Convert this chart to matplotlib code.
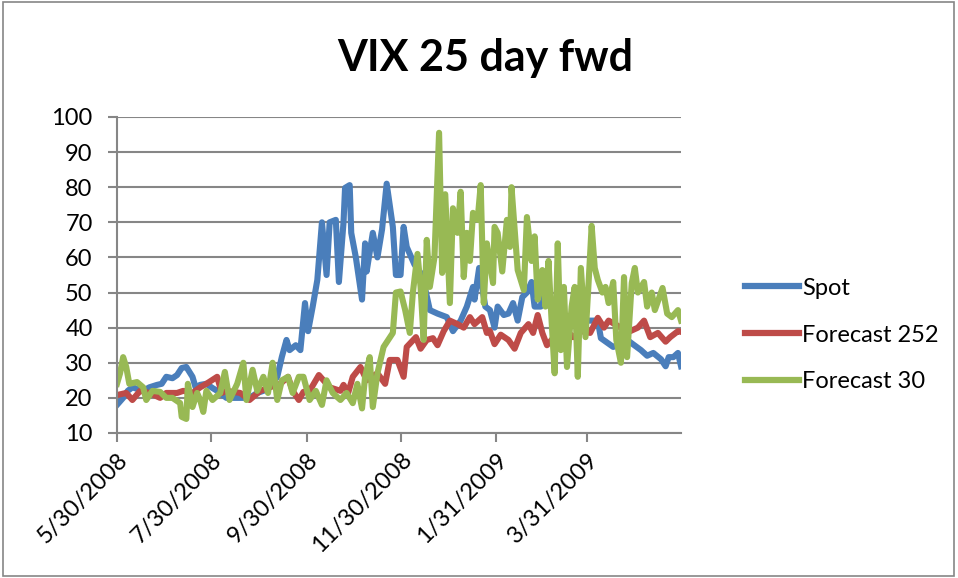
import numpy as np
import pandas as pd
import matplotlib
matplotlib.use("Agg")
import matplotlib.pyplot as plt
from matplotlib.patches import Rectangle

# datas: dias contados a partir de 5/30/2008
inicio = pd.Timestamp("2008-05-30")

diasSpot = [0, 4, 7, 10, 17, 21, 26, 29, 32, 36, 39, 42, 45, 49, 51, 54, 58, 62, 65, 71,
            80, 86, 91, 95, 99, 104, 107, 110, 112, 116, 119, 122, 124, 127, 130, 133, 136,
            138, 142, 144, 147, 148, 151, 152, 155, 159, 161, 162, 166, 169, 172, 175, 179,
            181, 184, 186, 188, 193, 198, 203, 208, 214, 218, 223, 227, 231, 232, 235, 239,
            242, 245, 247, 251, 254, 257, 260, 263, 266, 269, 271, 275, 277, 281, 288, 294,
            301, 307, 312, 314, 322, 331, 340, 344, 348, 353, 356, 358, 361, 364, 366]
spot = [18, 20, 22, 23, 22, 23, 23.7, 24, 26, 25.6, 26.5, 28.5, 28.8, 26, 23, 23.7, 24, 22.8,
        22, 20, 20, 20, 21.4, 22, 23, 26, 31.7, 36.5, 33.6, 35, 33.6, 47, 39, 46, 53.6, 70,
        55, 70, 70.7, 53, 70, 79.8, 80.6, 67, 60, 48, 64, 56, 67, 60, 68, 81, 68.7, 55, 55,
        68.7, 63, 58, 55, 45, 44, 43, 39, 42, 46, 51.6, 48, 57, 46, 45, 40, 46, 43.6, 44, 47,
        42, 48.7, 50, 53, 46, 46, 51.6, 46, 44, 43, 42, 42, 42, 37, 34.5, 36.5, 33.6, 32,
        32.8, 31, 29, 31.6, 31.6, 32.8, 29]

diasF252 = [0, 6, 10, 15, 21, 28, 32, 39, 43, 49, 54, 58, 65, 68, 71, 80, 86, 93, 99, 106,
            111, 114, 118, 121, 125, 131, 134, 138, 145, 147, 150, 153, 158, 162, 169, 174,
            177, 182, 186, 188, 194, 197, 201, 205, 208, 212, 216, 221, 225, 229, 232, 237,
            240, 242, 245, 249, 254, 258, 262, 267, 270, 273, 276, 279, 286, 292, 296, 301,
            307, 312, 316, 319, 327, 333, 338, 342, 346, 351, 356, 359, 364, 366]
f252 = [20.8, 21.4, 19.4, 22, 21.4, 20, 21.4, 21.4, 22, 21.4, 23, 24, 26, 21.4, 22, 21.4,
        19.4, 22, 23, 24, 26, 22, 19.4, 21.7, 22, 26.5, 25, 23, 22, 23.7, 21.4, 26, 28.8, 25,
        27, 24, 30.8, 30.8, 26, 34.5, 37.3, 34, 36.5, 37, 35, 39, 42, 41, 40, 43, 41, 43,
        38.5, 39, 35.3, 38, 36.5, 34, 38.5, 41, 38.5, 43.6, 38.5, 35, 38.5, 39, 37.3, 39,
        38.5, 42.8, 40, 42, 40, 39, 40, 42, 37.3, 38.5, 36, 37.3, 39, 38.8]

diasF30 = [0, 2, 4, 6, 8, 13, 17, 19, 23, 28, 32, 36, 41, 42, 45, 46, 49, 52, 54, 56, 58,
           62, 67, 70, 73, 78, 82, 84, 88, 91, 95, 98, 101, 104, 107, 111, 114, 118, 121, 125,
           129, 133, 136, 140, 145, 149, 153, 156, 159, 161, 164, 166, 169, 173, 176, 179,
           181, 184, 187, 190, 192, 195, 197, 199, 201, 203, 206, 209, 211, 213, 216, 218,
           221, 223, 225, 227, 229, 231, 234, 236, 238, 240, 244, 245, 247, 250, 253, 255,
           256, 260, 264, 266, 269, 271, 273, 276, 278, 280, 282, 284, 286, 288, 290, 292,
           295, 297, 299, 301, 304, 306, 308, 310, 312, 315, 317, 319, 322, 324, 327, 329,
           331, 334, 336, 338, 342, 344, 347, 349, 354, 357, 360, 364, 366]
f30 = [24, 27, 31.6, 28.8, 24, 24.5, 23, 19.4, 22, 21.7, 20, 20, 18.5, 14.6, 14, 24, 17.4,
       21.4, 19.4, 16, 22, 19.4, 21.4, 27.4, 19.4, 24, 30, 19.4, 28, 22, 26, 21.4, 30, 19.4,
       25, 26, 21.4, 26, 26, 19.4, 22, 18, 25, 21.4, 19.4, 21.4, 18.5, 24, 17, 26, 31.6,
       17.4, 27, 34.5, 36.5, 38.5, 50, 50.3, 45, 38.5, 50, 61, 51.6, 36.5, 65, 51.6, 60,
       95.5, 55.6, 78, 47, 74, 67, 78.7, 54.4, 67, 59, 72.7, 70.7, 80.6, 47, 64, 52.7, 68.7,
       67, 56, 70.7, 63, 80, 56.4, 50.7, 71.5, 59, 66, 48, 56.4, 46, 59, 42, 27, 64, 33.6,
       51.6, 28.8, 46, 51.6, 26, 57, 37.3, 52.7, 69, 57, 53.6, 50, 51.6, 47, 53, 36.5, 30,
       54.4, 31.6, 52.7, 57, 50, 53, 46, 50, 45, 51.3, 44, 43, 45, 42]

ticksDatas = ["2008-05-30", "2008-07-30", "2008-09-30", "2008-11-30", "2009-01-31", "2009-03-31"]
ticksLabels = ["5/30/2008", "7/30/2008", "9/30/2008", "11/30/2008", "1/31/2009", "3/31/2009"]

plt.rcParams['font.family'] = ['Lato', 'DejaVu Sans']

fig = plt.figure(figsize=(9.58, 5.78), dpi=100)
ax = fig.add_axes([0.1221, 0.2509, 0.5888, 0.5467])

fig.patches.append(Rectangle((0.003, 0.004), 0.993, 0.992, transform=fig.transFigure,
                             fill=False, edgecolor='#868686', linewidth=1.2))

def datas(dias):
    return inicio + pd.to_timedelta(dias, unit='D')

ax.plot(datas(diasSpot), spot, color='#4A7EBB', lw=4.4, label='Spot', solid_joinstyle='round')
ax.plot(datas(diasF252), f252, color='#BE4B48', lw=4.4, label='Forecast 252', solid_joinstyle='round')
ax.plot(datas(diasF30), f30, color='#98B954', lw=4.4, label='Forecast 30', solid_joinstyle='round')

ax.set_xlim(inicio, inicio + pd.Timedelta(days=366))
ax.set_ylim(10, 100)
ax.set_yticks(np.arange(10, 101, 10))
ax.set_xticks(pd.to_datetime(ticksDatas))
ax.set_xticklabels(ticksLabels, rotation=45, ha='right', rotation_mode='anchor')
ax.tick_params(axis='both', labelsize=17, color='#868686', length=6.5, width=1.5)
ax.tick_params(axis='y', pad=11)
ax.tick_params(axis='x', pad=5)

ax.grid(axis='y', color='#868686', lw=1.5)
ax.set_axisbelow(True)
for s in ['top', 'right']:
    ax.spines[s].set_visible(False)
for s in ['left', 'bottom']:
    ax.spines[s].set_color('#868686')
    ax.spines[s].set_linewidth(1.5)

fig.text(0.507, 0.90, 'VIX 25 day fwd', fontsize=31, fontweight='bold', ha='center', va='center')

leg = ax.legend(loc='center left', bbox_to_anchor=(1.075, 0.31), frameon=False, fontsize=17,
                handlelength=2.3, handletextpad=0.15, labelspacing=1.1)
for l in leg.get_lines():
    l.set_linewidth(4.5)

fig.savefig('out.png', dpi=100)
